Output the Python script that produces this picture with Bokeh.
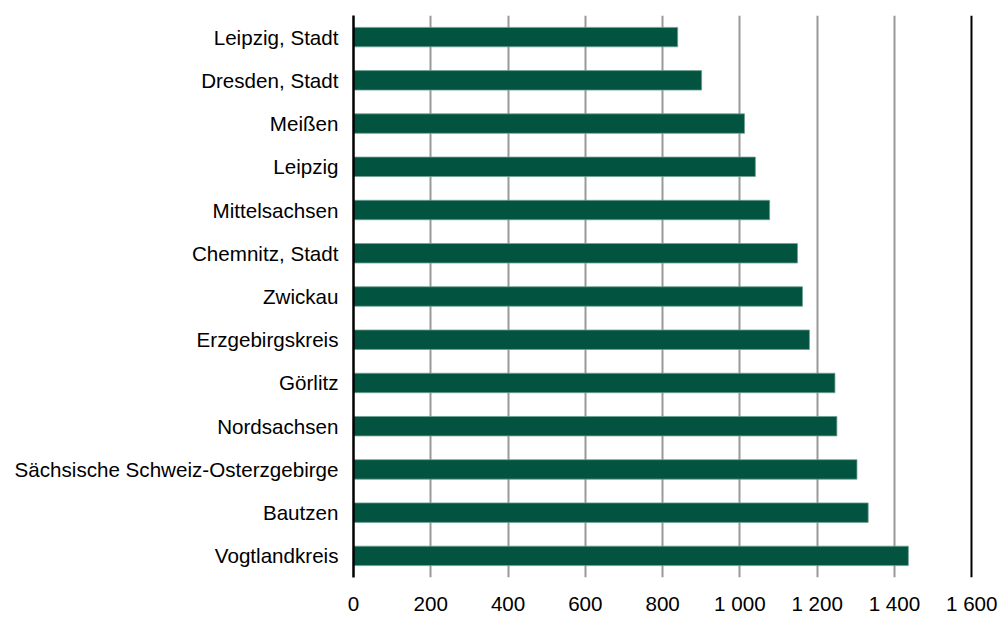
from bokeh.plotting import figure
from bokeh.models import FactorRange, Range1d, FixedTicker, Span
from bokeh.embed import file_html
from bokeh.resources import INLINE

categories = ["Leipzig, Stadt", "Dresden, Stadt", "Meißen", "Leipzig", "Mittelsachsen",
              "Chemnitz, Stadt", "Zwickau", "Erzgebirgskreis", "Görlitz", "Nordsachsen",
              "Sächsische Schweiz-Osterzgebirge", "Bautzen", "Vogtlandkreis"]
values = [839, 901, 1012, 1040, 1077, 1149, 1162, 1180, 1246, 1251, 1303, 1332, 1436]
x_ticks = [0, 200, 400, 600, 800, 1000, 1200, 1400, 1600]
x_tick_labels = ["0", "200", "400", "600", "800", "1 000", "1 200", "1 400", "1 600"]

FONT = "Liberation Sans"

p = figure(width=1000, height=617, output_backend="svg", toolbar_location=None,
           y_range=FactorRange(factors=list(reversed(categories))),
           x_range=Range1d(0, 1602),
           min_border_left=353, min_border_right=28, min_border_top=15, min_border_bottom=40)

p.outline_line_color = None
p.background_fill_color = "white"
p.border_fill_color = "white"

p.xgrid.ticker = FixedTicker(ticks=x_ticks[1:-1])
p.xgrid.grid_line_color = "#999999"
p.xgrid.grid_line_width = 2
p.ygrid.grid_line_color = None

p.add_layout(Span(location=x_ticks[-1], dimension="height", line_color="black", line_width=2.5))

p.hbar(y=categories, right=values, left=0, height=0.45,
       fill_color="#02533F", line_color="#6f9f90", line_width=0.8)

p.xaxis.ticker = FixedTicker(ticks=x_ticks)
p.xaxis.major_label_overrides = {t: l for t, l in zip(x_ticks, x_tick_labels)}
p.xaxis.axis_line_color = None
p.xaxis.major_tick_line_color = None
p.xaxis.minor_tick_line_color = None
p.xaxis.major_label_text_font = FONT
p.xaxis.major_label_text_font_size = "20.6px"
p.xaxis.major_label_text_color = "black"
p.xaxis.major_label_text_line_height = 1.0
p.xaxis.major_label_standoff = 8

p.yaxis.axis_line_color = "black"
p.yaxis.axis_line_width = 2.5
p.yaxis.major_tick_line_color = None
p.yaxis.minor_tick_line_color = None
p.yaxis.major_label_text_font = FONT
p.yaxis.major_label_text_font_size = "20.6px"
p.yaxis.major_label_text_color = "black"
p.yaxis.major_label_standoff = 9

open("out.html", "w").write(file_html(p, INLINE))
